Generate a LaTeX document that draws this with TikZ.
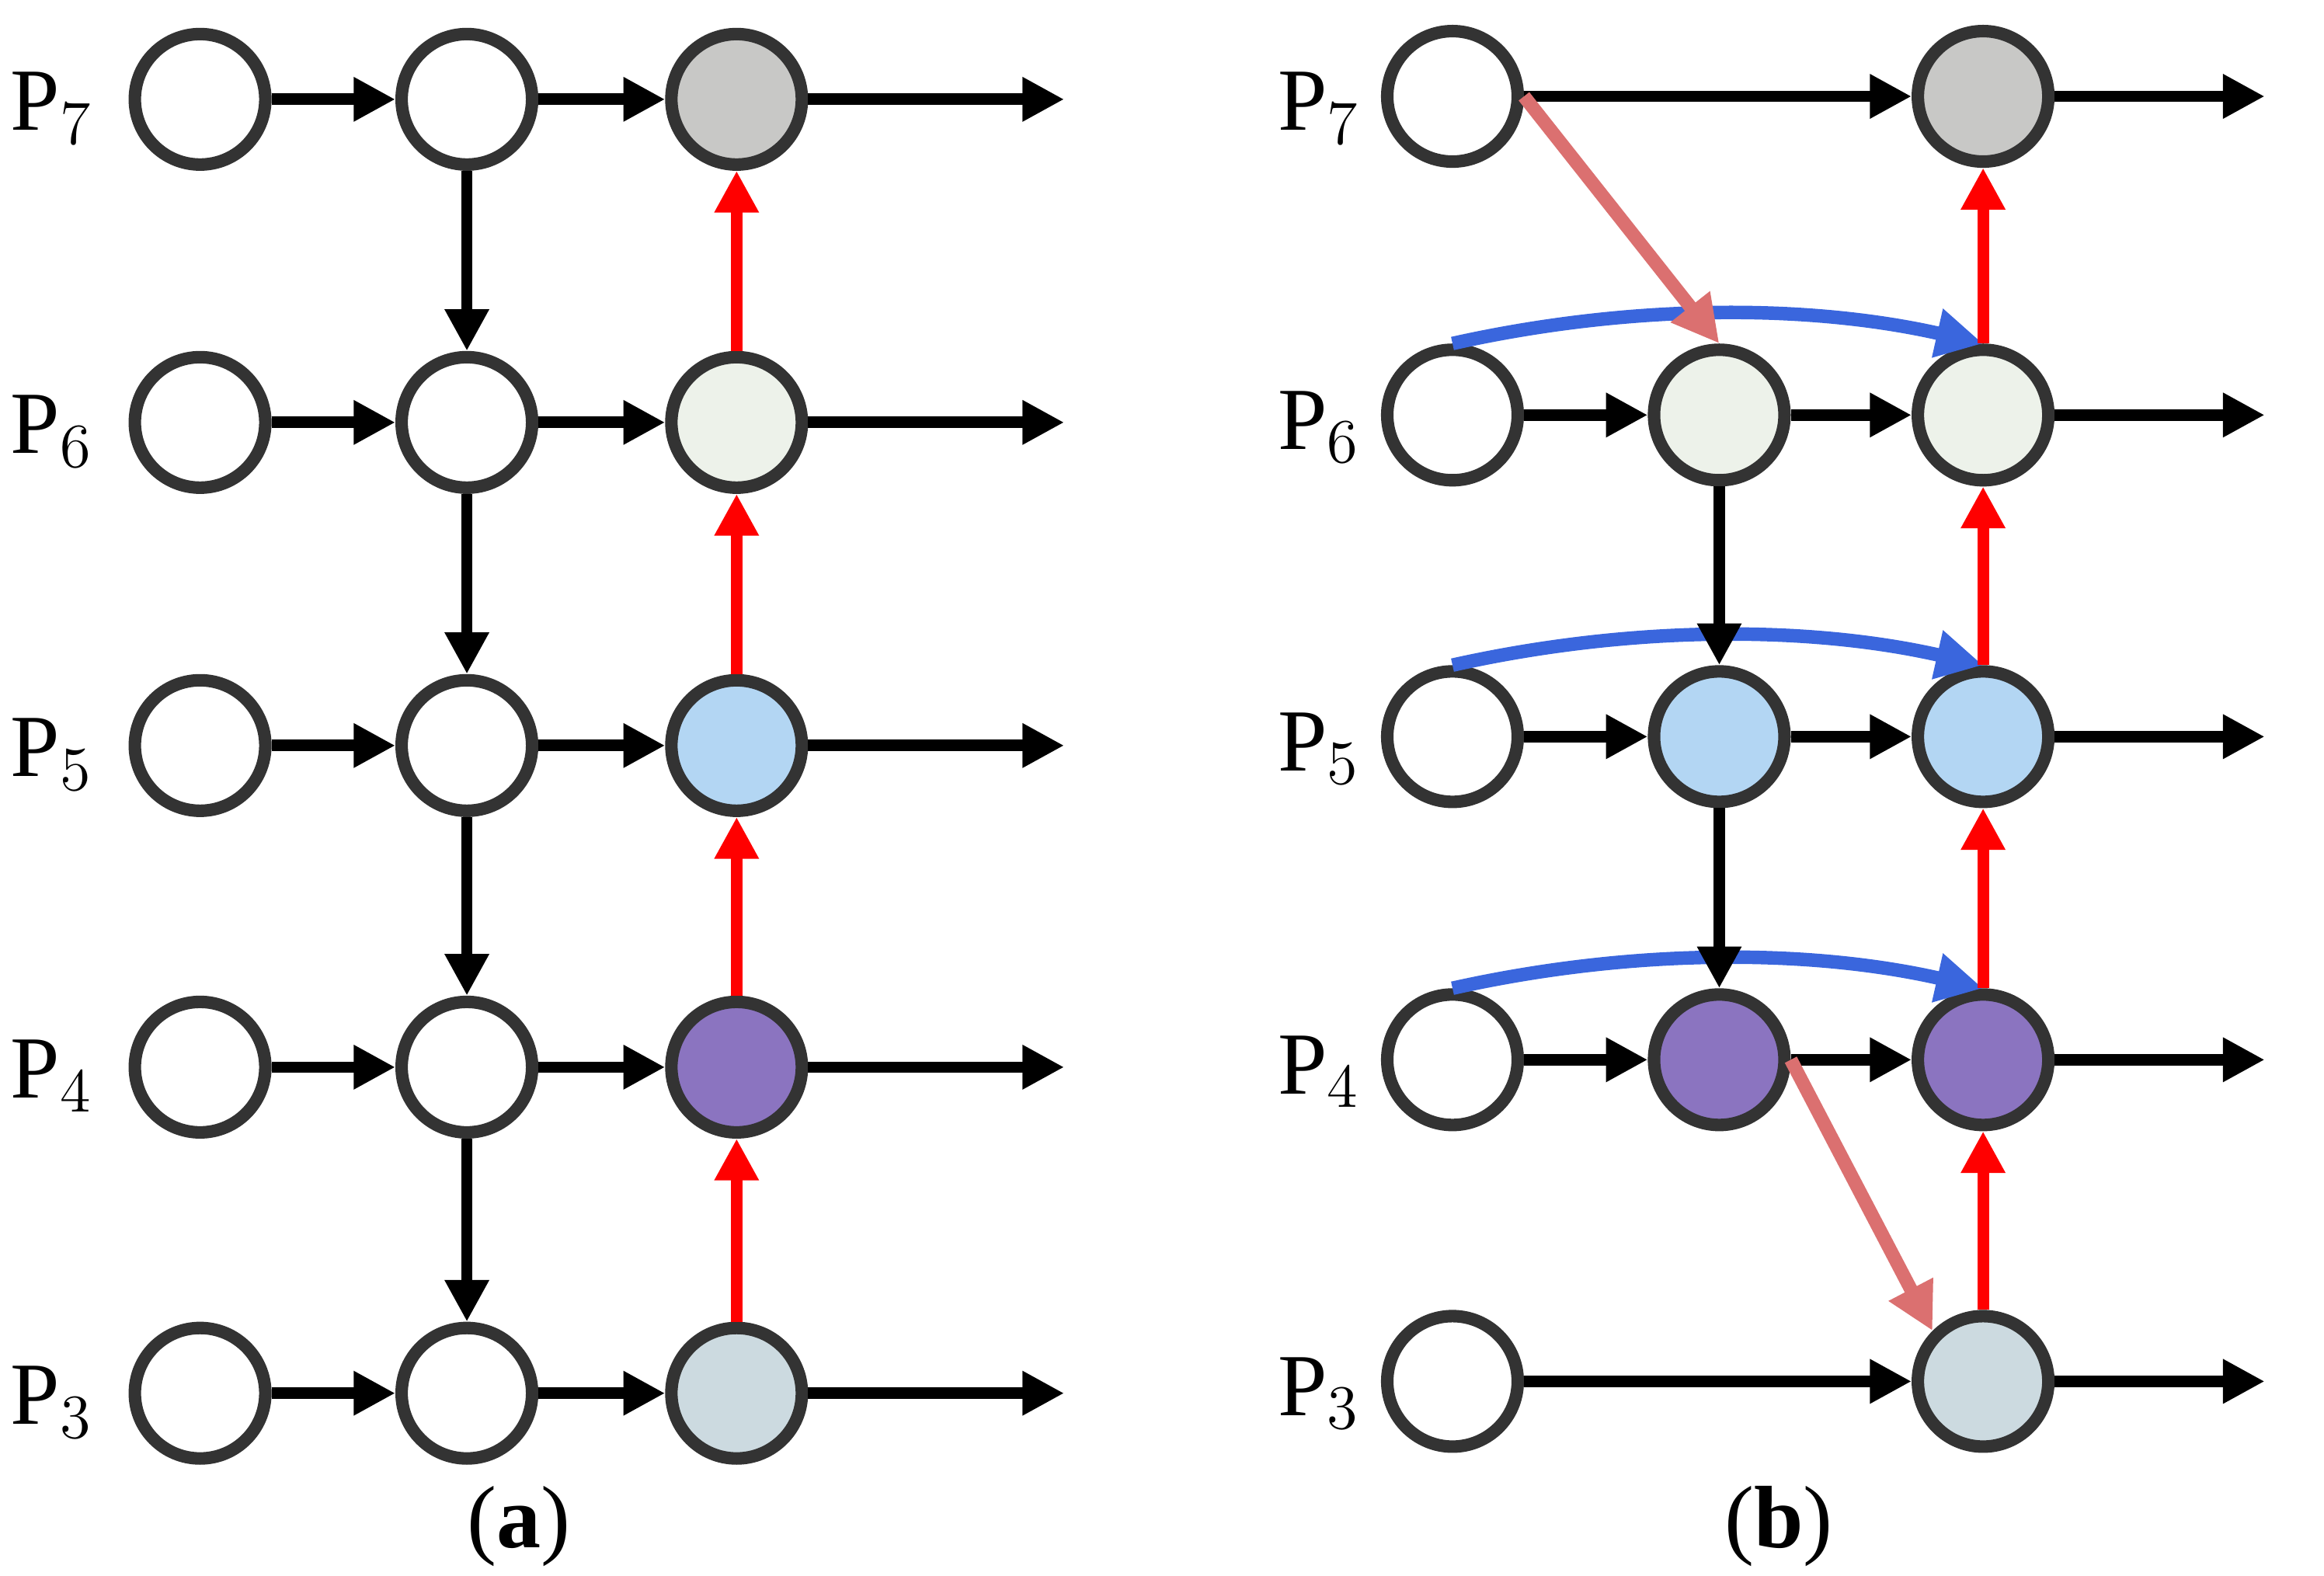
\documentclass[tikz,border=0pt]{standalone}
\usepackage{fontspec}
\setmainfont{Liberation Serif}
\usetikzlibrary{arrows.meta}
\begin{document}
\begin{tikzpicture}[x=0.01cm,y=-0.01cm,
  nd/.style={circle,draw=black!80,line width=2.4pt,minimum size=0.88cm,inner sep=0pt},
  ar/.style={line width=2.2pt,-{Triangle[length=8pt,width=8pt]}},
  rd/.style={ar,red},
  sa/.style={line width=2.6pt,color=salmon,-{Triangle[length=9pt,width=9pt]}},
  bl/.style={line width=2.6pt,color=blu,-{Triangle[length=9pt,width=9pt]}},
  lb/.style={font=\fontsize{17}{20}\selectfont}]
\definecolor{c7}{HTML}{C8C8C6}\definecolor{c6}{HTML}{EDF2EA}\definecolor{c5}{HTML}{B3D6F3}
\definecolor{c4}{HTML}{8B74C0}\definecolor{c3}{HTML}{CCDAE0}
\definecolor{salmon}{HTML}{DB7070}\definecolor{blu}{HTML}{3A66DD}
\useasboundingbox (0,0) rectangle (1568,1063);
% panel a
\foreach \r/\y/\c in {7/67/c7,6/285/c6,5/503/c5,4/720/c4,3/940/c3}{
  \node[lb] (la\r) at (35,\y+6) {P$_{\r}$};
  \node[nd] (a1\r) at (135,\y) {};
  \node[nd] (a2\r) at (315,\y) {};
  \node[nd,fill=\c] (a3\r) at (497,\y) {};
  \coordinate (ae\r) at (718,\y);
  \draw[ar] (a1\r) -- (a2\r);
  \draw[ar] (a2\r) -- (a3\r);
  \draw[ar] (a3\r) -- (ae\r);
}
\foreach \u/\d in {7/6,6/5,5/4,4/3}{\draw[ar] (a2\u) -- (a2\d); \draw[rd] (a3\d) -- (a3\u);}
\node[font=\fontsize{17}{20}\selectfont] (capa) at (350,1030) {(\textbf{a})};
% panel b
\foreach \r/\y/\c in {7/65/c7,6/280/c6,5/497/c5,4/715/c4,3/932/c3}{
  \node[lb] (lb\r) at (890,\y+8) {P$_{\r}$};
  \node[nd] (b1\r) at (980,\y) {};
  \node[nd,fill=\c] (b3\r) at (1338,\y) {};
  \coordinate (be\r) at (1528,\y);
  \draw[ar] (b3\r) -- (be\r);
}
\foreach \r/\y/\c in {6/280/c6,5/497/c5,4/715/c4}{
  \node[nd,fill=\c] (b2\r) at (1160,\y) {};
  \draw[ar] (b1\r) -- (b2\r);
  \draw[ar] (b2\r) -- (b3\r);
  \draw[bl] (b1\r.north) .. controls (1100,\y-75) and (1220,\y-75) .. (b3\r.north);
}
\draw[ar] (b17) -- (b37);
\draw[ar] (b13) -- (b33);
\draw[ar] (b26) -- (b25); \draw[ar] (b25) -- (b24);
\foreach \u/\d in {7/6,6/5,5/4,4/3}{\draw[rd] (b3\d) -- (b3\u);}
\draw[sa] (b17.east) -- (b26.north);
\draw[sa] (b24.east) -- (b33.north west);
\node[font=\fontsize{17}{20}\selectfont] (capb) at (1200,1030) {(\textbf{b})};
\end{tikzpicture}
\end{document}
